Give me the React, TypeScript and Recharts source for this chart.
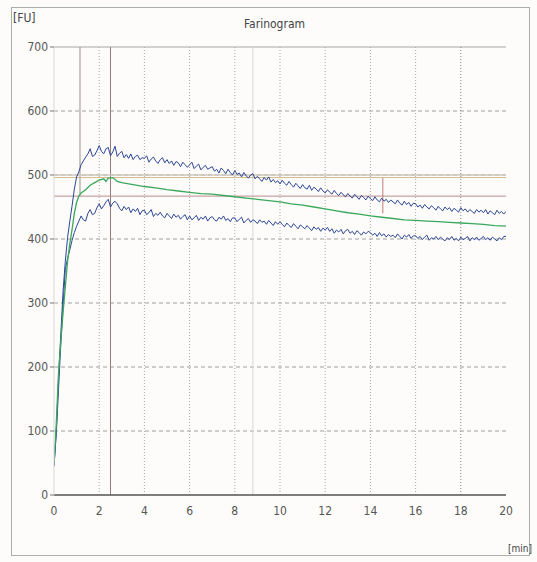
import React from "react";
import { LineChart, Line, XAxis, YAxis, ReferenceLine } from "recharts";

// sampling interval (min) of the two envelope traces
const blueStep = 0.1;
const upperValues = [
  45, 100, 182, 250, 318, 365, 402, 428, 452, 478,
  497, 505, 516, 522, 528, 533, 541, 529, 531, 538,
  546, 537, 533, 541, 543, 530, 536, 545, 529, 534,
  537, 527, 532, 526, 533, 524, 529, 531, 524, 527,
  526, 530, 520, 525, 528, 522, 518, 524, 527, 519,
  524, 518, 522, 515, 521, 519, 513, 520, 516, 512,
  516, 520, 510, 514, 517, 508, 512, 515, 509, 511,
  513, 506, 509, 503, 511, 507, 502, 509, 504, 500,
  507, 501, 503, 497, 504, 499, 495, 500, 502, 494,
  498, 494, 490, 496, 492, 497, 489, 493, 488, 491,
  486, 492, 487, 484, 490, 485, 481, 487, 483, 479,
  485, 480, 478, 484, 476, 481, 478, 474, 480, 475,
  472, 477, 473, 470, 476, 471, 468, 473, 469, 466,
  471, 467, 464, 470, 466, 462, 468, 465, 461, 467,
  463, 460, 466, 461, 458, 464, 459, 462, 457, 461,
  458, 455, 461, 456, 453, 459, 454, 457, 451, 456,
  455, 450, 453, 448, 454, 450, 447, 452, 449, 445,
  451, 447, 444, 450, 446, 449, 443, 448, 445, 442,
  449, 444, 447, 442, 446, 443, 440, 446, 442, 445,
  441, 446, 439, 444, 441, 438, 445, 440, 443, 439,
  443,
];
const lowerValues = [
  45, 95, 165, 235, 295, 352, 370, 383, 398, 410,
  420, 428, 436, 430, 428, 440, 446, 438, 440, 449,
  455, 447, 452, 458, 462, 450, 456, 459, 455, 448,
  444, 451, 446, 450, 441, 447, 443, 448, 438, 444,
  445, 438, 441, 446, 435, 440, 437, 442, 436, 433,
  440, 436, 432, 439, 434, 437, 431, 435, 438, 430,
  436, 430, 433, 437, 429, 434, 431, 436, 428, 433,
  435, 430, 428, 434, 431, 436, 429, 432, 427, 433,
  433, 427, 431, 434, 425, 429, 432, 426, 430, 428,
  424, 430, 426, 428, 423, 429, 425, 421, 427, 423,
  427, 423, 419, 425, 421, 418, 424, 420, 416, 422,
  419, 416, 421, 417, 413, 419, 415, 418, 412, 417,
  414, 418, 412, 416, 409, 414, 411, 415, 408, 413,
  415, 409, 412, 407, 413, 410, 406, 411, 408, 412,
  410, 406, 409, 404, 410, 405, 408, 403, 407, 404,
  406, 402, 408, 404, 400, 406, 403, 407, 401, 405,
  405, 401, 404, 399, 403, 406, 398, 402, 400, 404,
  399, 403, 400, 397, 402, 399, 404, 398, 401, 397,
  403, 399, 401, 404, 397, 402, 399, 403, 398, 401,
  404, 399, 402, 398, 403, 400, 397, 402, 399, 404,
  404,
];
const greenTimes = [
  0, 0.1, 0.2, 0.3, 0.4, 0.5, 0.6, 0.7, 0.8, 0.9, 1.0, 1.1, 1.2, 1.4, 1.6, 1.8,
  2.0, 2.2, 2.3, 2.4, 2.6, 2.8, 3.0, 3.5, 4, 4.5, 5, 5.5, 6, 6.5, 7, 7.5, 8,
  8.5, 9, 9.5, 10, 10.5, 11, 11.5, 12, 12.5, 13, 13.5, 14, 14.5, 15, 15.5, 16,
  16.5, 17, 17.5, 18, 18.5, 19, 19.5, 20,
];
const greenValues = [
  50, 110, 190, 240, 285, 325, 365, 393, 415, 440, 457, 467, 472, 477, 484, 488,
  492, 494, 490, 495, 496, 490, 488, 485, 482, 480, 477, 475, 473, 471, 470, 468,
  466, 464, 462, 460, 458, 455, 453, 450, 447, 444, 441, 439, 436, 434, 432, 430,
  429, 428, 427, 426, 425, 424, 423, 421, 420,
];

const xTicks = [0, 2, 4, 6, 8, 10, 12, 14, 16, 18, 20];
const yTicks = [0, 100, 200, 300, 400, 500, 600, 700];
const hGrid = [100, 200, 300, 400, 500, 600];
const vGrid = [2, 4, 6, 8, 10, 12, 14, 16, 18];

const upperData = upperValues.map((v, i) => ({ t: +(i * blueStep).toFixed(1), v }));
const lowerData = lowerValues.map((v, i) => ({ t: +(i * blueStep).toFixed(1), v }));
const greenData = greenValues.map((v, i) => ({ t: greenTimes[i], v }));

const FONT = '"Liberation Sans Narrow", "DejaVu Sans Condensed", "Liberation Sans", sans-serif';

export default function App() {
  return (
    <div style={{ position: "absolute", left: 0, top: 0, width: 537, height: 562, background: "#fdfcfa", fontFamily: FONT }}>
      <div style={{ position: "absolute", left: 11, top: 7, width: 519, height: 549, border: "1px solid #a9aeab", boxSizing: "border-box" }} />
      <div style={{ position: "absolute", left: 13, top: 11, fontSize: 12, color: "#444" }}>[FU]</div>
      <div style={{ position: "absolute", left: 0, width: 537, top: 17, textAlign: "center", fontSize: 12, color: "#444", paddingLeft: 6 }}>Farinogram</div>
      <div style={{ position: "absolute", left: 508, top: 543, fontSize: 10, color: "#444" }}>[min]</div>
      <LineChart width={537} height={562} margin={{ top: 47, right: 31, bottom: 37, left: 14 }}>
        <XAxis
          type="number"
          dataKey="t"
          domain={[0, 20]}
          ticks={xTicks}
          allowDataOverflow
          tickSize={0}
          tickMargin={11}
          height={30}
          axisLine={{ stroke: "#555", strokeWidth: 1.5 }}
          tick={{ fontSize: 12, fill: "#555", fontFamily: FONT }}
        />
        <YAxis
          type="number"
          dataKey="v"
          domain={[0, 700]}
          ticks={yTicks}
          width={40}
          tickSize={4}
          tickMargin={2}
          axisLine={{ stroke: "#d8d8d8" }}
          tickLine={{ stroke: "#777" }}
          tick={{ fontSize: 12, fill: "#555", fontFamily: FONT }}
        />
        {hGrid.map((y) => (
          <ReferenceLine key={"h" + y} y={y} stroke="#a0a0a0" strokeDasharray="4 3" />
        ))}
        <ReferenceLine y={700} stroke="#a8a8a8" />
        {vGrid.map((x) => (
          <ReferenceLine key={"v" + x} x={x} stroke={x === 18 ? "#888" : "#a8a8a8"} strokeDasharray="1 2" />
        ))}
        <ReferenceLine x={8.8} stroke="#d6d6d6" />
        <ReferenceLine x={2.5} stroke="#9a7c7c" />
        <ReferenceLine segment={[{ x: 1.15, y: 467 }, { x: 1.15, y: 700 }]} stroke="#9a8f8f" />
        <ReferenceLine y={500} stroke="#cfc9bb" strokeWidth={1.5} />
        <ReferenceLine y={496} stroke="#d6b990" />
        <ReferenceLine y={467} stroke="#b88f8f" />
        <ReferenceLine segment={[{ x: 14.55, y: 440 }, { x: 14.55, y: 495 }]} stroke="#c07a7a" />
        <Line data={upperData} dataKey="v" type="linear" stroke="#2b4696" strokeWidth={1} dot={false} isAnimationActive={false} />
        <Line data={lowerData} dataKey="v" type="linear" stroke="#2b4696" strokeWidth={1} dot={false} isAnimationActive={false} />
        <Line data={greenData} dataKey="v" type="linear" stroke="#3aa85c" strokeWidth={1.3} dot={false} isAnimationActive={false} />
      </LineChart>
    </div>
  );
}
